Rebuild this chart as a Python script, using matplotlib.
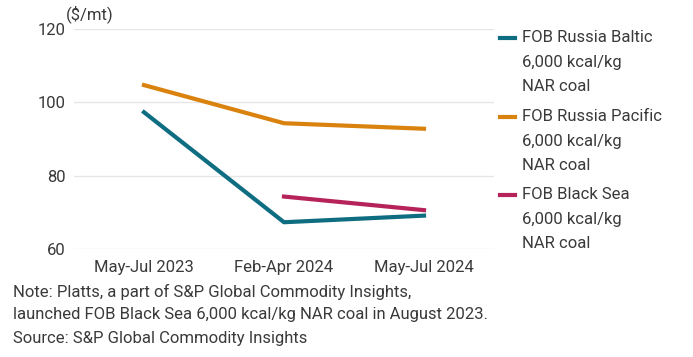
import matplotlib
matplotlib.use("Agg")
import matplotlib.pyplot as plt
from matplotlib.lines import Line2D

plt.rcParams['font.family'] = ['Roboto', 'DejaVu Sans']

categories = ["May-Jul 2023", "Feb-Apr 2024", "May-Jul 2024"]
baltic = [97.3, 67.3, 69.1]
pacific = [104.7, 94.3, 92.8]
black_sea = [None, 74.3, 70.6]
series_names = ["FOB Russia Baltic\n6,000 kcal/kg\nNAR coal",
                "FOB Russia Pacific\n6,000 kcal/kg\nNAR coal",
                "FOB Black Sea\n6,000 kcal/kg\nNAR coal"]
colors = ["#0e6d80", "#d9820e", "#b5235a"]
yticks = [60, 80, 100, 120]

W, H = 693, 357
fig = plt.figure(figsize=(W/100, H/100), dpi=100)
ax = fig.add_axes([74/W, 1-249/H, (494-74)/W, 220/H])

txt = "#3a3a3a"
x = list(range(len(categories)))
ax.plot(x, baltic, color=colors[0], lw=3, zorder=3)
ax.plot(x, pacific, color=colors[1], lw=3, zorder=3)
bx = [i for i, v in enumerate(black_sea) if v is not None]
by = [v for v in black_sea if v is not None]
ax.plot(bx, by, color=colors[2], lw=3, zorder=3)

ax.set_xlim(-0.5, 2.5)
ax.set_ylim(60, 120)
ax.set_yticks(yticks)
ax.set_xticks(x)
ax.set_xticklabels(categories)
for s in ax.spines.values():
    s.set_visible(False)
ax.grid(axis='y', color='#e6e6e6', lw=1)
ax.set_axisbelow(True)
ax.tick_params(length=0, labelsize=12, colors=txt, pad=6)
ax.tick_params(axis='x', pad=8)

fig.text(66/W, 1-14/H, "($/mt)", fontsize=12, color=txt, va='center', ha='left')

# legend
leg_y = [38, 117, 195]
for i, (name, c) in enumerate(zip(series_names, colors)):
    y0 = 1 - leg_y[i]/H
    fig.add_artist(Line2D([500/W, 515/W], [y0, y0], color=c, lw=3, transform=fig.transFigure))
    fig.text(522/W, y0 + 8/H, name, fontsize=12, color=txt, va='top', ha='left',
             linespacing=1.8)

notes = ["Note: Platts, a part of S&P Global Commodity Insights,",
         "launched FOB Black Sea 6,000 kcal/kg NAR coal in August 2023.",
         "Source: S&P Global Commodity Insights"]
for i, n in enumerate(notes):
    fig.text(13/W, 1-(292+23*i)/H, n, fontsize=12, color=txt, va='center', ha='left')

fig.savefig("out.png", dpi=100)
